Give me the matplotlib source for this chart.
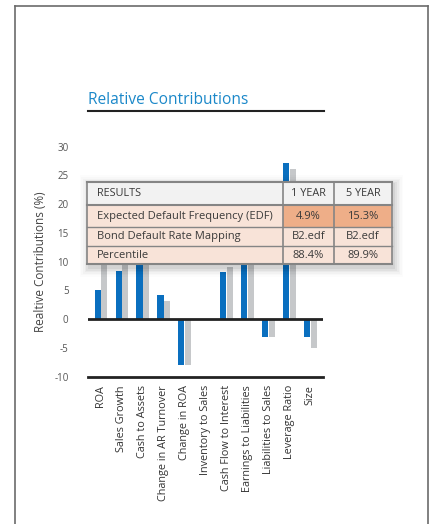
import matplotlib
matplotlib.use("Agg")
import matplotlib.pyplot as plt
from matplotlib.patches import Rectangle
import numpy as np

plt.rcParams['font.family'] = ['Open Sans', 'DejaVu Sans']

categories = ["ROA", "Sales Growth", "Cash to Assets", "Change in AR Turnover",
              "Change in ROA", "Inventory to Sales", "Cash Flow to Interest",
              "Earnings to Liabilities", "Liabilities to Sales", "Leverage Ratio", "Size"]
one_year = [5.1, 8.3, 12.0, 4.2, -8.0, 0.0, 8.2, 11.0, -3.1, 27.2, -3.1]
five_year = [11.0, 12.0, 10.5, 3.1, -8.0, 0.0, 9.1, 10.5, -3.1, 26.2, -5.0]
yticks = [-10, -5, 0, 5, 10, 15, 20, 25, 30]

table_header = ["RESULTS", "1 YEAR", "5 YEAR"]
table_rows = [
    ["Expected Default Frequency (EDF)", "4.9%", "15.3%"],
    ["Bond Default Rate Mapping", "B2.edf", "B2.edf"],
    ["Percentile", "88.4%", "89.9%"],
]

W, H = 433, 524
fig = plt.figure(figsize=(W / 100, H / 100), dpi=100)
fig.patch.set_facecolor("white")

# main axes
ax = fig.add_axes([88 / W, 1 - 376.7 / H, 235 / W, 230 / H])
x = np.arange(len(categories))
bw = 0.29
ax.bar(x - 0.16, one_year, width=bw, color="#0a6fbf", zorder=2)
ax.bar(x + 0.16, five_year, width=bw, color="#c6c8ca", zorder=2)
ax.set_xlim(-0.62, len(categories) - 0.4)
ax.set_ylim(-10, 30)
ax.set_yticks(yticks)
ax.set_yticklabels([str(v) for v in yticks], fontsize=7, color="#555555")
ax.set_xticks(x)
ax.set_xticklabels(categories, rotation=90, fontsize=7.8, color="#333333")
ax.tick_params(axis="both", length=0)
ax.tick_params(axis="y", pad=14)
ax.tick_params(axis="x", pad=6)
for s in ax.spines.values():
    s.set_visible(False)
ax.axhline(0, color="#222222", lw=2, zorder=3)
ax.axhline(-10, color="#222222", lw=2, zorder=3, clip_on=False)
ax.set_ylabel("Realtive Contributions (%)", fontsize=8.5, color="#444444", labelpad=5)
ax.patch.set_alpha(0)

# overlay in pixel coords
ov = fig.add_axes([0, 0, 1, 1], zorder=10)
ov.set_xlim(0, W)
ov.set_ylim(H, 0)
ov.axis("off")
ov.patch.set_alpha(0)

# page border
ov.plot([15, 15], [6, H + 5], color="#6b6b6b", lw=1.2)
ov.plot([428, 428], [6, H + 5], color="#6b6b6b", lw=1.2)
ov.plot([15, 428], [6, 6], color="#6b6b6b", lw=1.2)

# title
ov.text(88, 104, "Relative Contributions", fontsize=11.2, color="#1b88c9",
        ha="left", va="baseline")
ov.plot([88, 324], [110.7, 110.7], color="#222222", lw=1.5)

# table
tl, tr = 87.3, 391.7
c1, c2 = 282.7, 334.3
rows_y = [182, 205.3, 227.3, 246, 264.3]

# shadow
for i, a in enumerate([0.05, 0.04, 0.03, 0.022, 0.015, 0.01]):
    d = 1.6 * (i + 1)
    ov.add_patch(Rectangle((tl - d + 2, rows_y[0] - d + 3), tr - tl + 2 * d, rows_y[-1] - rows_y[0] + 2 * d,
                           facecolor="black", alpha=a, edgecolor="none", zorder=1))

ov.add_patch(Rectangle((tl, rows_y[0]), tr - tl, rows_y[1] - rows_y[0],
                       facecolor="#f2f2f2", edgecolor="none", zorder=2))
for r in range(3):
    ov.add_patch(Rectangle((tl, rows_y[r + 1]), tr - tl, rows_y[r + 2] - rows_y[r + 1],
                           facecolor="#f8e3d8", edgecolor="none", zorder=2))
ov.add_patch(Rectangle((c1, rows_y[1]), tr - c1, rows_y[2] - rows_y[1],
                       facecolor="#eeae88", edgecolor="none", zorder=2))
lc = "#858585"
for yy in rows_y:
    lw = 1.5 if yy in (rows_y[0], rows_y[1], rows_y[-1]) else 1.0
    ov.plot([tl, tr], [yy, yy], color=lc, lw=lw, zorder=3)
for xx in [tl, c1, c2, tr]:
    ov.plot([xx, xx], [rows_y[0], rows_y[-1]], color=lc, lw=1.2, zorder=3)

tc = "#3a3a3a"
cx = [tl + 10, (c1 + c2) / 2, (c2 + tr) / 2]
for j, t in enumerate(table_header):
    ov.text(cx[j], (rows_y[0] + rows_y[1]) / 2, t, fontsize=7.8, color=tc,
            ha="left" if j == 0 else "center", va="center", zorder=4)
for r, row in enumerate(table_rows):
    ym = (rows_y[r + 1] + rows_y[r + 2]) / 2
    for j, t in enumerate(row):
        ov.text(cx[j], ym, t, fontsize=8, color=tc,
                ha="left" if j == 0 else "center", va="center", zorder=4)

fig.savefig("out.png", dpi=100)
